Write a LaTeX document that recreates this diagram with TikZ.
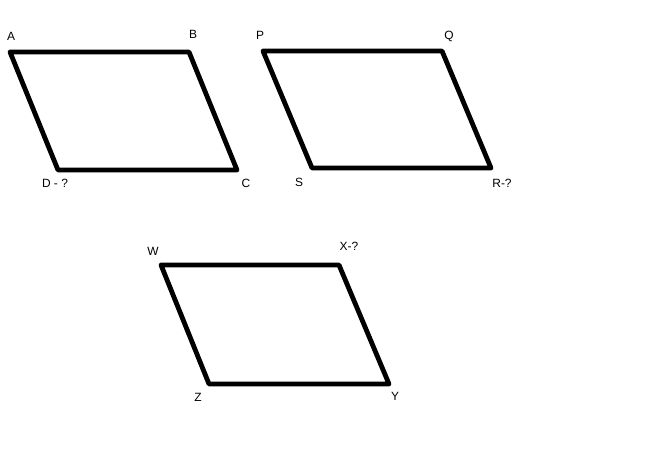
\documentclass[tikz,border=0pt]{standalone}
\usepackage{fontspec}
\setmainfont{Liberation Sans}
\usetikzlibrary{calc}

\begin{document}
\begin{tikzpicture}[x=1bp, y=-1bp, % pixel units, y downwards
        side/.style={line width=4.8bp, line join=round, line cap=round},
        lbl/.style={inner sep=0pt, font=\fontsize{12}{14}\selectfont}]
        \useasboundingbox (0,0) rectangle (662,467);

        % Define Coordinates
        \coordinate (A) at (10,52);
        \coordinate (B) at (189,52);
        \coordinate (C) at (237,170);
        \coordinate (D) at (58,170);

        \coordinate (P) at (263,51);
        \coordinate (Q) at (442,51);
        \coordinate (R) at (491,168);
        \coordinate (S) at (312,168);

        \coordinate (W) at (161,265);
        \coordinate (X) at (339,265);
        \coordinate (Y) at (389,384);
        \coordinate (Z) at (209,384);

        % Draw Parallelograms
        \draw[side] (A) -- (B) -- (C) -- (D) -- cycle;
        \draw[side] (P) -- (Q) -- (R) -- (S) -- cycle;
        \draw[side] (W) -- (X) -- (Y) -- (Z) -- cycle;

        % Labels
        \node[lbl] (labA) at (11,36) {A};
        \node[lbl] (labB) at (193,34) {B};
        \node[lbl] (labC) at (246,183) {C};
        \node[lbl] (labD) at (55,183) {D - ?};

        \node[lbl] (labP) at (260,35) {P};
        \node[lbl] (labQ) at (449,36) {Q};
        \node[lbl] (labR) at (502,183) {R-?};
        \node[lbl] (labS) at (299,182) {S};

        \node[lbl] (labW) at (153,251) {W};
        \node[lbl] (labX) at (349,246) {X-?};
        \node[lbl] (labY) at (395,396) {Y};
        \node[lbl] (labZ) at (198,397) {Z};

    \end{tikzpicture}
\end{document}
